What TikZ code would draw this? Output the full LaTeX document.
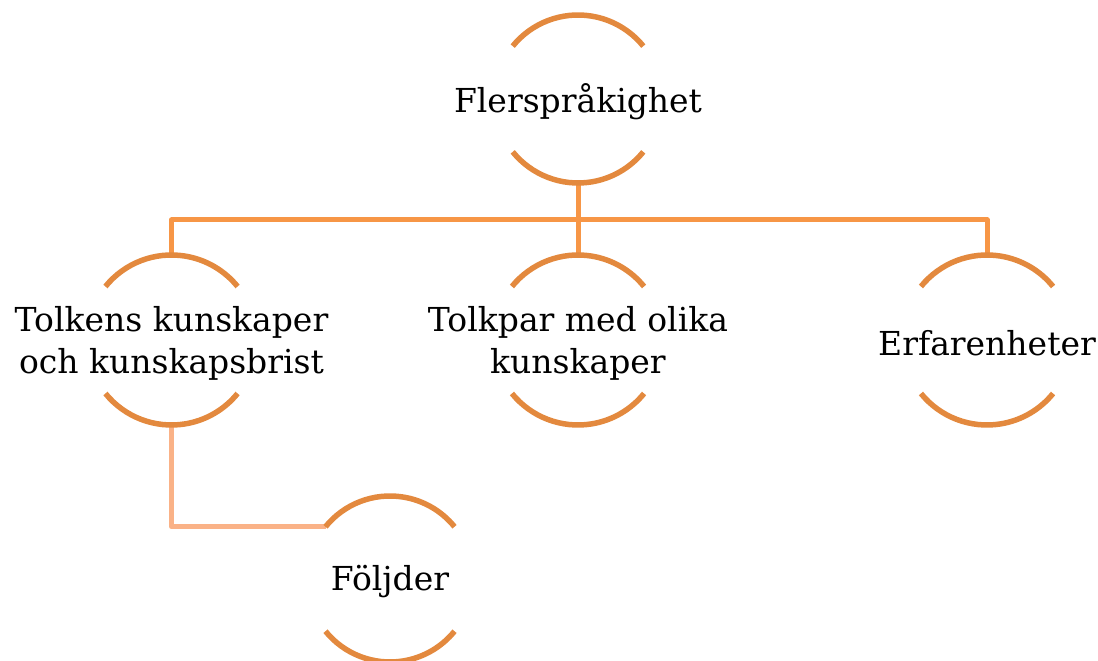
\documentclass[tikz,border=0pt]{standalone}
\usepackage{fontspec}
\setmainfont{DejaVu Serif}
\definecolor{arcor}{RGB}{227,137,62}
\definecolor{busor}{RGB}{247,150,70}
\definecolor{subor}{RGB}{250,178,135}
\begin{document}
\begin{tikzpicture}[x=1pt,y=1pt,
  ring/.style={circle,minimum size=#1,inner sep=0pt,outer sep=0pt},
  lbl/.style={align=center,font=\fontsize{33}{42}\selectfont,inner sep=0pt},
  arcline/.style={draw=arcor,line width=5.5pt},
  bus/.style={draw=busor,line width=5pt,line join=round},
  sub/.style={draw=subor,line width=5pt,line join=round}]
\useasboundingbox (0,0) rectangle (1098,661);

% circle outlines (only top and bottom arcs are drawn)
\node[ring=168pt] (fl)  at (578,562) {};
\node[ring=170pt] (tk)  at (171.5,321) {};
\node[ring=170pt] (md)  at (578,321) {};
\node[ring=170pt] (er)  at (987,321) {};
\node[ring=166pt] (fo)  at (390,82) {};

% connectors
\draw[bus] (fl.south) -- (md.north);
\draw[bus] (tk.north) -- ++(0,35) -| (er.north);
\draw[sub] (tk.south) |- (fo.141);

% arcs
\foreach \n/\r in {fl/84,tk/85,md/85,er/85,fo/83}{
  \draw[arcline] (\n.141) arc[start angle=141,end angle=39,radius=\r pt];
  \draw[arcline] (\n.-141) arc[start angle=-141,end angle=-39,radius=\r pt];
}

% labels
\node[lbl] (flt) at ([yshift=-3pt]fl.center) {Flerspråkighet};
\node[lbl] (tkt) at ([yshift=-3pt]tk.center) {Tolkens kunskaper\\och kunskapsbrist};
\node[lbl] (mdt) at ([yshift=-3pt]md.center) {Tolkpar med olika\\kunskaper};
\node[lbl] (ert) at ([yshift=-3pt]er.center) {Erfarenheter};
\node[lbl] (fot) at ([yshift=-3pt]fo.center) {Följder};
\end{tikzpicture}
\end{document}
